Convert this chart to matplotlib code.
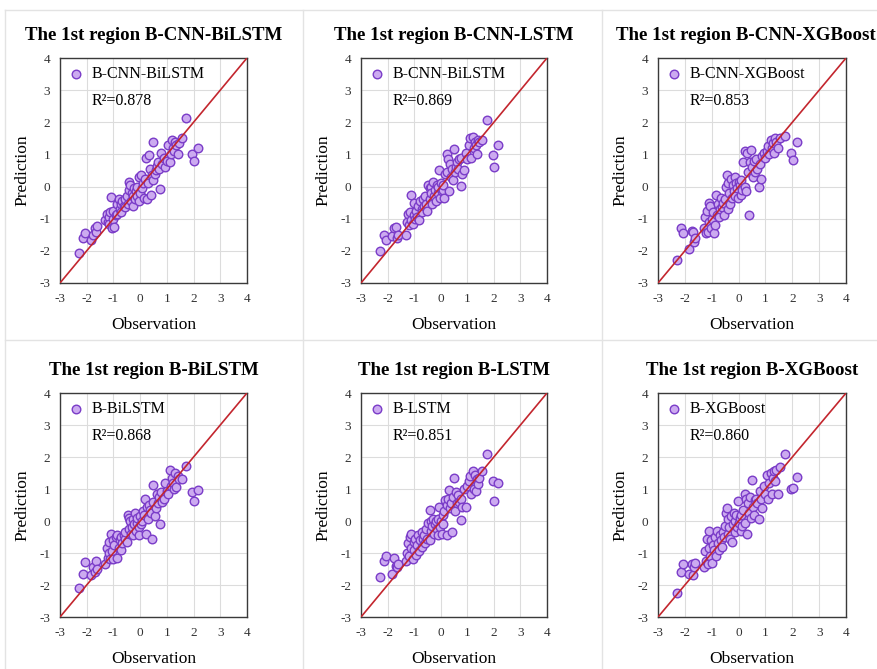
import matplotlib
matplotlib.use("Agg")
import matplotlib.pyplot as plt
from matplotlib.lines import Line2D

plt.rcParams['font.family'] = ['Liberation Serif', 'DejaVu Serif']
plt.rcParams['axes.unicode_minus'] = False

# observed values (shared by all models)
observation = [-2.28, -2.15, -2.07, -1.85, -1.75, -1.70, -1.66, -1.62, -1.30, -1.25,
               -1.22, -1.18, -1.15, -1.12, -1.10, -1.05, -1.02, -1.00, -0.96, -0.92,
               -0.88, -0.85, -0.80, -0.76, -0.72, -0.70, -0.66, -0.62, -0.58, -0.55,
               -0.50, -0.46, -0.42, -0.40, -0.38, -0.35, -0.32, -0.28, -0.25, -0.22,
               -0.18, -0.15, -0.12, -0.10, -0.06, -0.03, 0.00, 0.04, 0.08, 0.10,
               0.14, 0.18, 0.22, 0.25, 0.28, 0.32, 0.36, 0.40, 0.44, 0.48,
               0.50, 0.54, 0.58, 0.62, 0.66, 0.70, 0.75, 0.78, 0.82, 0.88,
               0.94, 1.00, 1.05, 1.10, 1.15, 1.20, 1.24, 1.28, 1.32, 1.36,
               1.40, 1.45, 1.55, 1.73, 1.96, 2.02, 2.17]

pred_cnn_bilstm = [-2.06, -1.59, -1.43, -1.65, -1.50, -1.30, -1.40, -1.22, -1.05, -0.85,
                   -1.10, -0.95, -1.15, -0.80, -0.32, -1.28, -1.00, -0.75, -1.25, -0.90,
                   -0.55, -0.85, -0.38, -0.70, -0.55, -0.80, -0.45, -0.60, -0.40, -0.65,
                   -0.30, -0.55, 0.15, -0.10, 0.05, -0.45, -0.20, -0.60, -0.30, -0.05,
                   -0.40, -0.15, 0.00, -0.30, 0.30, -0.45, -0.20, 0.35, -0.05, 0.10,
                   -0.35, 0.25, 0.88, -0.40, 0.10, 0.98, 0.55, -0.25, 0.35, 0.20,
                   1.40, 0.40, 0.50, 0.65, 0.75, 0.55, -0.09, 1.03, 0.70, 0.90,
                   0.60, 0.80, 1.30, 0.75, 1.00, 1.45, 1.20, 1.10, 1.40, 1.30,
                   1.00, 1.35, 1.50, 2.13, 1.01, 0.80, 1.19]

pred_cnn_lstm = [-2.00, -1.50, -1.65, -1.55, -1.30, -1.25, -1.60, -1.50, -1.50, -1.10,
                 -0.85, -1.20, -0.80, -1.05, -0.25, -1.15, -0.90, -0.50, -1.00, -0.75,
                 -0.95, -0.60, -1.05, -0.45, -0.70, -0.80, -0.40, -0.60, -0.30, -0.55,
                 -0.75, 0.05, -0.05, -0.40, 0.00, -0.20, -0.55, 0.15, -0.30, -0.10,
                 -0.45, 0.05, -0.20, 0.00, 0.50, -0.35, 0.10, -0.15, -0.10, 0.05,
                 -0.35, 0.40, 0.45, 1.00, 0.85, -0.15, 0.70, 0.30, 0.55, 0.20,
                 1.17, 0.45, 0.60, 0.75, 0.55, 0.85, 0.03, 0.90, 0.40, 0.50,
                 1.05, 0.85, 1.30, 1.50, 0.90, 1.55, 1.20, 1.40, 1.30, 1.00,
                 1.45, 1.40, 1.45, 2.07, 0.97, 0.61, 1.30]

pred_cnn_xgboost = [-2.30, -1.28, -1.45, -1.95, -1.38, -1.42, -1.72, -1.60, -1.30, -0.95,
                    -1.45, -0.75, -1.40, -0.50, -1.10, -0.60, -1.30, -1.00, -0.80, -1.45,
                    -1.20, -0.25, -0.90, -0.55, -0.95, -0.70, -0.35, -0.65, -0.50, -0.90,
                    -0.40, 0.00, 0.35, -0.70, 0.10, -0.20, -0.55, 0.25, -0.35, 0.05,
                    -0.15, 0.30, -0.30, 0.10, -0.05, -0.35, 0.15, 0.05, -0.25, 0.20,
                    -0.10, 0.75, 1.10, 0.00, -0.15, 1.05, 0.45, -0.90, 0.75, 1.15,
                    0.60, 0.30, 0.80, 0.45, 0.85, 0.55, 0.00, 0.70, 0.25, 0.95,
                    1.05, 0.90, 1.10, 1.25, 1.00, 1.45, 1.20, 1.35, 1.05, 1.50,
                    1.40, 1.20, 1.50, 1.57, 1.05, 0.82, 1.40]

pred_bilstm = [-2.10, -1.65, -1.27, -1.70, -1.45, -1.60, -1.25, -1.50, -1.35, -0.85,
               -1.15, -0.65, -1.00, -1.20, -0.40, -0.95, -0.60, -1.20, -0.75, -0.50,
               -1.15, -0.45, -0.85, -0.60, -0.50, -0.90, -0.70, -0.45, -0.55, -0.35,
               -0.65, 0.20, 0.10, -0.25, 0.00, -0.40, -0.20, -0.45, 0.05, -0.10,
               0.25, -0.30, -0.05, 0.10, -0.20, -0.45, 0.15, -0.10, 0.00, 0.30,
               0.20, 0.70, -0.40, 0.45, 0.05, 0.50, 0.35, 0.25, -0.55, 0.60,
               1.12, 0.15, 0.40, 0.85, 0.55, 0.75, -0.10, 0.90, 0.60, 0.70,
               1.20, 0.95, 0.85, 1.60, 1.10, 1.35, 1.20, 1.00, 1.50, 1.05,
               1.40, 1.30, 1.30, 1.73, 0.90, 0.62, 0.98]

pred_lstm = [-1.75, -1.25, -1.10, -1.65, -1.15, -1.40, -1.45, -1.35, -1.25, -1.00,
             -0.70, -1.10, -0.50, -0.85, -0.40, -1.20, -0.65, -0.90, -0.55, -1.05,
             -0.75, -0.45, -0.95, -0.60, -0.35, -0.80, -0.55, -0.45, -0.70, -0.25,
             -0.55, -0.05, 0.35, -0.60, 0.00, -0.30, -0.15, 0.05, -0.40, -0.10,
             0.00, -0.25, 0.05, -0.45, 0.45, -0.20, 0.00, -0.40, 0.20, -0.10,
             0.30, 0.65, 0.50, -0.45, 0.70, 0.98, 0.40, 0.55, -0.35, 0.75,
             1.35, 0.30, 0.90, 0.55, 0.80, 0.60, 0.02, 0.70, 0.45, 1.00,
             0.45, 1.10, 1.25, 1.40, 0.85, 1.55, 1.00, 1.45, 0.95, 1.30,
             1.15, 1.35, 1.55, 2.10, 1.25, 0.62, 1.20]

pred_xgboost = [-2.25, -1.60, -1.35, -1.65, -1.35, -1.70, -1.45, -1.30, -1.45, -0.95,
                -1.25, -0.55, -1.35, -0.85, -0.30, -1.10, -0.60, -1.30, -0.75, -0.90,
                -0.50, -1.10, -0.30, -0.70, -0.90, -0.45, -0.60, -0.80, -0.35, -0.50,
                -0.15, 0.25, 0.40, -0.40, 0.05, -0.20, -0.55, 0.15, -0.65, -0.10,
                0.25, -0.35, 0.00, 0.20, -0.20, 0.62, -0.05, 0.10, -0.30, 0.20,
                -0.15, 0.35, 0.85, -0.05, 0.70, -0.40, 0.55, 0.25, 0.75, 0.10,
                1.28, 0.45, 0.20, 0.65, 0.70, 0.55, 0.05, 0.95, 0.70, 0.40,
                1.10, 0.85, 1.45, 0.70, 1.20, 1.50, 0.85, 1.35, 1.55, 1.25,
                1.60, 0.85, 1.70, 2.10, 1.00, 1.02, 1.38]

titles = ["The 1st region B-CNN-BiLSTM", "The 1st region B-CNN-LSTM", "The 1st region B-CNN-XGBoost",
          "The 1st region B-BiLSTM", "The 1st region B-LSTM", "The 1st region B-XGBoost"]
legend_labels = ["B-CNN-BiLSTM", "B-CNN-BiLSTM", "B-CNN-XGBoost", "B-BiLSTM", "B-LSTM", "B-XGBoost"]
r2_values = [0.878, 0.869, 0.853, 0.868, 0.851, 0.860]
predictions = [pred_cnn_bilstm, pred_cnn_lstm, pred_cnn_xgboost, pred_bilstm, pred_lstm, pred_xgboost]

fig = plt.figure(figsize=(8.77, 6.69), dpi=100)

# axes boxes in figure fraction
lefts = [0.0684, 0.4116, 0.7503]
widths = [0.2132, 0.2121, 0.2144]
bottoms = [0.577, 0.0777]
heights = [0.3363, 0.3348]

# light cell borders
border_color = "#e3e3e3"
for x in [0.006, 0.345, 0.687]:
    fig.add_artist(Line2D([x, x], [0.0, 0.985], color=border_color, lw=1.0))
for y in [0.985, 0.492]:
    fig.add_artist(Line2D([0.006, 1.0], [y, y], color=border_color, lw=1.0))

for i in range(6):
    row, col = divmod(i, 3)
    ax = fig.add_axes([lefts[col], bottoms[row], widths[col], heights[row]])

    ax.grid(True, color="#dcdcdc", linewidth=0.8, zorder=0)
    ax.set_axisbelow(True)

    ax.scatter(observation, predictions[i], s=38, facecolor="#ccaaf0", edgecolor="#7a3cc8",
               linewidth=1.0, zorder=3, label=legend_labels[i])
    ax.plot([-3, 4], [-3, 4], color="#c3262e", linewidth=1.2, zorder=4)

    ax.set_xlim(-3, 4)
    ax.set_ylim(-3, 4)
    ax.set_xticks(range(-3, 5))
    ax.set_yticks(range(-3, 5))
    ax.tick_params(length=0, labelsize=9.5, pad=7, colors="#333333")
    for spine in ax.spines.values():
        spine.set_color("#3a3a3a")
        spine.set_linewidth(1.0)

    # the right-hand title sits a little left so it stays inside the figure
    title_x = 0.465 if i == 2 else 0.5
    ax.set_title(titles[i], fontsize=13.6, fontweight="bold", pad=13, x=title_x)
    ax.set_xlabel("Observation", fontsize=12.5, labelpad=9)
    ax.set_ylabel("Prediction", fontsize=12.5, labelpad=6)

    ax.legend(loc="upper left", frameon=False, fontsize=11.5, handletextpad=0.5,
              borderaxespad=0.1, handlelength=1.0, markerscale=1.0)
    ax.text(0.17, 0.81, f"R²={r2_values[i]:.3f}", transform=ax.transAxes,
            fontsize=11.5, va="center", ha="left")

fig.savefig("out.png", dpi=100)
